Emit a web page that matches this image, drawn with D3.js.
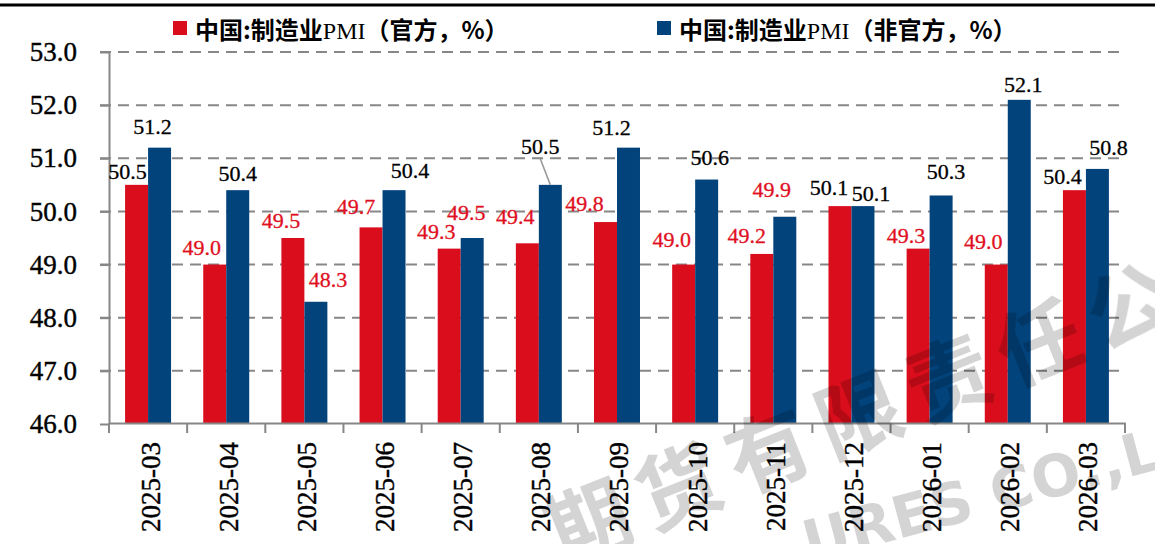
<!DOCTYPE html>
<html>
<head>
<meta charset="utf-8">
<script src="https://cdn.jsdelivr.net/npm/d3@7"></script>
<style>
  body { margin: 0; background: #fff; }
  svg { display: block; }
  svg text.serif { font-family: "Liberation Serif", "DejaVu Serif", serif !important; }
</style>
</head>
<body>
<svg id="chart"></svg>
<script>
// data
const categories = ["2025-03", "2025-04", "2025-05", "2025-06", "2025-07", "2025-08", "2025-09",
  "2025-10", "2025-11", "2025-12", "2026-01", "2026-02", "2026-03"];
const official = [50.5, 49.0, 49.5, 49.7, 49.3, 49.4, 49.8, 49.0, 49.2, 50.1, 49.3, 49.0, 50.4];
const unofficial = [51.2, 50.4, 48.3, 50.4, 49.5, 50.5, 51.2, 50.6, 49.9, 50.1, 50.3, 52.1, 50.8];
const yTicks = [46, 47, 48, 49, 50, 51, 52, 53];
const seriesNames = ["中国:制造业PMI（官方，%）", "中国:制造业PMI（非官方，%）"];

// label nudges [dx, lift] so the labels sit like the original
const officialNudge = [[-9, 14], [-13, 17], [-12, 18], [-15, 21], [-13, 17], [-12, 27], [-21, 19],
  [-12, 25], [-15, 19], [-11, 19], [-12, 13], [-13, 23], [-12, 14]];
const unofficialNudge = [[-7, 21], [0, 17], [12, 22], [16, 20], [-6, 26], [-10, 39], [-17, 20],
  [3, 22], [-13, 27], [8, 13], [5, 24], [4, 16], [11, 22]];

const W = 1155, H = 544;
const RED = "#d90d1b", BLUE = "#02437b", GRID = "#878787";
const CJK = "Noto Sans CJK SC";

const svg = d3.select("#chart").attr("width", W).attr("height", H);

const x = d3.scaleBand().domain(categories).range([109, 1125]).padding(0);
const xs = d3.scaleBand().domain(["official", "unofficial"]).range([0, x.bandwidth()])
  .paddingInner(0).paddingOuter(0.7);
const y = d3.scaleLinear().domain([46, 53]).range([424, 52]);

// top rule
svg.append("line").attr("x1", 0).attr("x2", W).attr("y1", 5).attr("y2", 5)
  .attr("stroke", "#000").attr("stroke-width", 3);

// grid
svg.append("g").selectAll("line")
  .data(yTicks.filter(d => d > 46))
  .join("line")
  .attr("x1", 100).attr("x2", 1125)
  .attr("y1", d => y(d)).attr("y2", d => y(d))
  .attr("stroke", GRID).attr("stroke-width", 2)
  .attr("stroke-dasharray", "11,7");

// bars
const rows = categories.map((c, i) => ({ c, i, official: official[i], unofficial: unofficial[i] }));
const series = [
  { key: "official", color: RED, nudge: officialNudge },
  { key: "unofficial", color: BLUE, nudge: unofficialNudge }
];

series.forEach(s => {
  svg.append("g").selectAll("rect")
    .data(rows)
    .join("rect")
    .attr("x", d => x(d.c) + xs(s.key))
    .attr("width", xs.bandwidth())
    .attr("y", d => y(d[s.key]))
    .attr("height", d => y(46) - y(d[s.key]))
    .attr("fill", s.color);
});

// y axis
const yAxis = svg.append("g")
  .attr("transform", "translate(109,0)")
  .call(d3.axisLeft(y).tickValues(yTicks).tickFormat(d3.format(".1f"))
    .tickSize(9).tickSizeOuter(0).tickPadding(23));
yAxis.select(".domain").attr("stroke", GRID).attr("stroke-width", 2);
yAxis.selectAll(".tick line").attr("stroke", GRID).attr("stroke-width", 2);
yAxis.selectAll(".tick text").attr("class", "serif").attr("fill", "#000")
  .attr("stroke", "#000").attr("stroke-width", 0.4).style("font-size", "27px");

// x axis
const xAxis = svg.append("g")
  .attr("transform", "translate(0,423)")
  .call(d3.axisBottom(x).tickSize(0).tickSizeOuter(0));
xAxis.select(".domain").attr("stroke", GRID).attr("stroke-width", 2);
xAxis.selectAll(".tick text")
  .attr("class", "serif")
  .attr("fill", "#000").attr("stroke", "#000").attr("stroke-width", 0.4)
  .style("font-size", "27px")
  .attr("text-anchor", "end")
  .attr("transform", "translate(2,19) rotate(-90)")
  .attr("x", 0).attr("y", 0).attr("dy", "0.35em");
svg.append("g").selectAll("line")
  .data(categories.map(c => x(c)).concat([x.range()[1]]))
  .join("line")
  .attr("x1", d => d).attr("x2", d => d)
  .attr("y1", 423).attr("y2", 433)
  .attr("stroke", GRID).attr("stroke-width", 2);

// value labels
series.forEach(s => {
  const g = svg.append("g");
  rows.forEach(d => {
    const v = d[s.key];
    const cx = x(d.c) + xs(s.key) + xs.bandwidth() / 2;
    const [dx, lift] = s.nudge[d.i];
    const ly = y(v) - lift;
    const col = v < 50 ? "#e0101f" : "#000";
    g.append("text")
      .attr("class", "serif")
      .style("font-size", "22px")
      .attr("x", cx + dx).attr("y", ly)
      .attr("dy", "0.35em")
      .attr("text-anchor", "middle")
      .attr("fill", col).attr("stroke", col).attr("stroke-width", 0.3)
      .text(v.toFixed(1));
    if (lift > 30) {
      g.append("line")
        .attr("x1", cx + dx).attr("y1", ly + 13)
        .attr("x2", cx).attr("y2", y(v))
        .attr("stroke", "#999").attr("stroke-width", 1.5);
    }
  });
});

// legend
const legendX = [173, 657];
series.forEach((s, i) => {
  const lg = svg.append("g").attr("transform", `translate(${legendX[i]},0)`);
  lg.append("rect").attr("x", 0).attr("y", 21).attr("width", 14).attr("height", 14).attr("fill", s.color);
  const t = lg.append("text").attr("class", "serif").attr("x", 22).attr("y", 39)
    .style("font-size", "24px").attr("fill", "#000");
  const parts = seriesNames[i].split("PMI");
  t.append("tspan").style("font-weight", "bold").style("font-family", CJK).text(parts[0]);
  t.append("tspan").text("PMI");
  t.append("tspan").style("font-weight", "bold").style("font-family", CJK).text(parts[1]);
});

// watermark, placed glyph by glyph; glyphs whose centre leaves the frame are skipped
const wm = svg.append("g").attr("pointer-events", "none").attr("opacity", 0.17);
function stamp(str, x0, y0, ang, font, size, spacing) {
  const rad = ang * Math.PI / 180;
  const probe = wm.append("text").style("font-family", font).style("font-weight", "bold")
    .style("font-size", size + "px");
  let off = 0;
  Array.from(str).forEach(ch => {
    probe.text(ch === " " ? "\u00a0" : ch);
    const w = probe.node().getComputedTextLength();
    const c = off + w / 2;
    off += w + spacing;
    if (ch === " ") return;
    const px = x0 + Math.cos(rad) * c, py = y0 + Math.sin(rad) * c;
    if (px < 0 || px > W || py < 0 || py > H) return;
    wm.append("text")
      .attr("transform", `translate(${px},${py}) rotate(${ang})`)
      .attr("text-anchor", "middle").attr("dy", "0.35em")
      .style("font-family", font).style("font-weight", "bold").style("font-size", size + "px")
      .text(ch);
  });
  probe.remove();
}
stamp("信期货有限责任公司", 460, 576, -21.8, CJK, 84, 13);
stamp("FUTURES CO.,LTD", 682, 576, -15, "DejaVu Sans", 58, 0);
</script>
</body>
</html>
